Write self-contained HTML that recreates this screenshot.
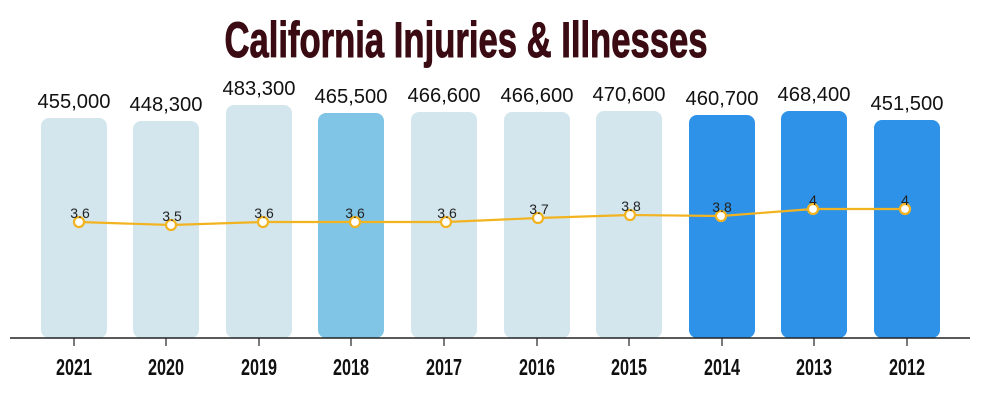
<!DOCTYPE html>
<html><head><meta charset="utf-8"><style>
html,body{margin:0;padding:0;background:#fff;}
svg{display:block;}
</style></head><body>
<svg width="1000" height="401" viewBox="0 0 1000 401" xmlns="http://www.w3.org/2000/svg">
<text x="466" y="57" text-anchor="middle" textLength="483" lengthAdjust="spacingAndGlyphs" font-family="Liberation Sans Narrow, Liberation Sans, sans-serif" font-weight="bold" font-size="50" fill="#3a0b12" stroke="#3a0b12" stroke-width="1">California Injuries &amp; Illnesses</text>
<g id="bars">
<rect x="41" y="118" width="66" height="220" rx="8" fill="#d3e6ee"/>
<rect x="133" y="121" width="66" height="217" rx="8" fill="#d3e6ee"/>
<rect x="226" y="105" width="66" height="233" rx="8" fill="#d3e6ee"/>
<rect x="318" y="113" width="66" height="225" rx="8" fill="#80c5e5"/>
<rect x="411" y="112" width="66" height="226" rx="8" fill="#d3e6ee"/>
<rect x="504" y="112" width="66" height="226" rx="8" fill="#d3e6ee"/>
<rect x="596" y="111" width="66" height="227" rx="8" fill="#d3e6ee"/>
<rect x="689" y="115" width="66" height="223" rx="8" fill="#2e92e8"/>
<rect x="781" y="111" width="66" height="227" rx="8" fill="#2e92e8"/>
<rect x="874" y="120" width="66" height="218" rx="8" fill="#2e92e8"/>
</g>
<g font-family="Liberation Sans, sans-serif" font-size="20" fill="#111" text-anchor="middle">
<text x="74" y="108" textLength="73" lengthAdjust="spacingAndGlyphs">455,000</text>
<text x="166" y="111" textLength="73" lengthAdjust="spacingAndGlyphs">448,300</text>
<text x="259" y="95" textLength="73" lengthAdjust="spacingAndGlyphs">483,300</text>
<text x="351" y="103" textLength="73" lengthAdjust="spacingAndGlyphs">465,500</text>
<text x="444" y="102" textLength="73" lengthAdjust="spacingAndGlyphs">466,600</text>
<text x="537" y="102" textLength="73" lengthAdjust="spacingAndGlyphs">466,600</text>
<text x="629" y="101" textLength="73" lengthAdjust="spacingAndGlyphs">470,600</text>
<text x="722" y="105" textLength="73" lengthAdjust="spacingAndGlyphs">460,700</text>
<text x="814" y="101" textLength="73" lengthAdjust="spacingAndGlyphs">468,400</text>
<text x="907" y="110" textLength="73" lengthAdjust="spacingAndGlyphs">451,500</text>
</g>
<line x1="10" y1="338" x2="970" y2="338" stroke="#222" stroke-width="1.5"/>
<g stroke="#222" stroke-width="1.2">
<line x1="74" y1="338" x2="74" y2="346"/><line x1="166" y1="338" x2="166" y2="346"/><line x1="259" y1="338" x2="259" y2="346"/><line x1="351" y1="338" x2="351" y2="346"/><line x1="444" y1="338" x2="444" y2="346"/><line x1="537" y1="338" x2="537" y2="346"/><line x1="629" y1="338" x2="629" y2="346"/><line x1="722" y1="338" x2="722" y2="346"/><line x1="814" y1="338" x2="814" y2="346"/><line x1="907" y1="338" x2="907" y2="346"/>
</g>
<g font-family="Liberation Sans Narrow, Liberation Sans, sans-serif" font-weight="bold" font-size="23" fill="#111" text-anchor="middle">
<text x="74" y="375" textLength="36" lengthAdjust="spacingAndGlyphs">2021</text>
<text x="166" y="375" textLength="36" lengthAdjust="spacingAndGlyphs">2020</text>
<text x="259" y="375" textLength="36" lengthAdjust="spacingAndGlyphs">2019</text>
<text x="351" y="375" textLength="36" lengthAdjust="spacingAndGlyphs">2018</text>
<text x="444" y="375" textLength="36" lengthAdjust="spacingAndGlyphs">2017</text>
<text x="537" y="375" textLength="36" lengthAdjust="spacingAndGlyphs">2016</text>
<text x="629" y="375" textLength="36" lengthAdjust="spacingAndGlyphs">2015</text>
<text x="722" y="375" textLength="36" lengthAdjust="spacingAndGlyphs">2014</text>
<text x="814" y="375" textLength="36" lengthAdjust="spacingAndGlyphs">2013</text>
<text x="907" y="375" textLength="36" lengthAdjust="spacingAndGlyphs">2012</text>
</g>
<polyline points="79,222 171,225 263,222 355,222 446,222 538,218 630,215 721,216 813,209 905,209" fill="none" stroke="#f2b320" stroke-width="2.2"/>
<g fill="#fff" stroke="#f2b320" stroke-width="2.2">
<circle cx="79" cy="222" r="5"/><circle cx="171" cy="225" r="5"/><circle cx="263" cy="222" r="5"/><circle cx="355" cy="222" r="5"/><circle cx="446" cy="222" r="5"/><circle cx="538" cy="218" r="5"/><circle cx="630" cy="215" r="5"/><circle cx="721" cy="216" r="5"/><circle cx="813" cy="209" r="5"/><circle cx="905" cy="209" r="5"/>
</g>
<g font-family="Liberation Sans Narrow, Liberation Sans, sans-serif" font-size="14" fill="#222" text-anchor="middle">
<text x="80" y="218">3.6</text>
<text x="172" y="221">3.5</text>
<text x="264" y="218">3.6</text>
<text x="355" y="218">3.6</text>
<text x="447" y="218">3.6</text>
<text x="539" y="214">3.7</text>
<text x="631" y="211">3.8</text>
<text x="722" y="212">3.8</text>
<text x="813" y="205">4</text>
<text x="905" y="205">4</text>
</g>
</svg>
</body></html>
